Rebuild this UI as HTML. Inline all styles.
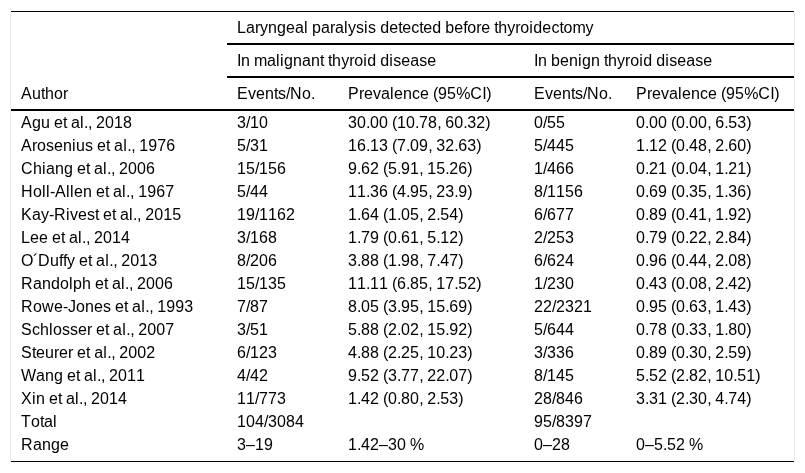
<!DOCTYPE html>
<html><head><meta charset="utf-8">
<style>
html,body{margin:0;padding:0;background:#fff;}
body{width:805px;height:473px;overflow:hidden;position:relative;font-family:"Liberation Sans",Arial,sans-serif;font-size:16px;color:#000;font-kerning:none;}
.vl{position:absolute;top:12px;height:450px;width:1px;background:#ebebeb;}
.hl{position:absolute;background:#000;}
.r{position:absolute;will-change:transform;left:0;width:805px;height:18px;line-height:18px;white-space:nowrap;}
.r span{position:absolute;top:0;}
.r i{font-style:normal;}
.c1{left:21px}.c2{left:237px}.c3{left:348px}.c4{left:534px}.c5{left:636px}
.k0{letter-spacing:0.1016px}
.k1{letter-spacing:-0.3281px}
.k2{letter-spacing:0px}
.k3{letter-spacing:0.4453px}
.k4{letter-spacing:-0.4453px}
.k5{letter-spacing:0.3281px}
.k6{letter-spacing:-0.2266px}
.k7{letter-spacing:-0.1016px}
.k8{letter-spacing:0.2266px}
</style></head><body>
<div class="vl" style="left:10px"></div>
<div class="vl" style="left:794px"></div>
<div class="hl" style="left:11px;top:11px;width:783px;height:1px"></div>
<div class="hl" style="left:227px;top:43px;width:567px;height:2px"></div>
<div class="hl" style="left:227px;top:76px;width:567px;height:2px"></div>
<div class="hl" style="left:11px;top:109px;width:783px;height:2px"></div>
<div class="hl" style="left:11px;top:461px;width:783px;height:1px"></div>
<div class="r" style="top:19px"><span class="c2"><i class="k0">La</i><i class="k1">r</i><i class="k2">y</i><i class="k0">ngea</i><i class="k3">l</i><i class="k4"> </i><i class="k0">pa</i><i class="k1">r</i><i class="k0">a</i><i class="k3">l</i><i class="k2">ys</i><i class="k3">i</i><i class="k2">s</i><i class="k4"> </i><i class="k0">de</i><i class="k4">t</i><i class="k0">e</i><i class="k2">c</i><i class="k4">t</i><i class="k0">ed</i><i class="k4"> </i><i class="k0">be</i><i class="k4">f</i><i class="k0">o</i><i class="k1">r</i><i class="k0">e</i><i class="k4"> t</i><i class="k0">h</i><i class="k2">y</i><i class="k1">r</i><i class="k0">o</i><i class="k3">i</i><i class="k0">de</i><i class="k2">c</i><i class="k4">t</i><i class="k0">o</i><i class="k1">m</i><i class="k2">y</i></span></div>
<div class="r" style="top:52px"><span class="c2"><i class="k4">I</i><i class="k0">n</i><i class="k4"> </i><i class="k1">m</i><i class="k0">a</i><i class="k3">li</i><i class="k0">gnan</i><i class="k4">t t</i><i class="k0">h</i><i class="k2">y</i><i class="k1">r</i><i class="k0">o</i><i class="k3">i</i><i class="k0">d</i><i class="k4"> </i><i class="k0">d</i><i class="k3">i</i><i class="k2">s</i><i class="k0">ea</i><i class="k2">s</i><i class="k0">e</i></span><span class="c4"><i class="k4">I</i><i class="k0">n</i><i class="k4"> </i><i class="k0">ben</i><i class="k3">i</i><i class="k0">gn</i><i class="k4"> t</i><i class="k0">h</i><i class="k2">y</i><i class="k1">r</i><i class="k0">o</i><i class="k3">i</i><i class="k0">d</i><i class="k4"> </i><i class="k0">d</i><i class="k3">i</i><i class="k2">s</i><i class="k0">ea</i><i class="k2">s</i><i class="k0">e</i></span></div>
<div class="r" style="top:85px"><span class="c1"><i class="k5">A</i><i class="k0">u</i><i class="k4">t</i><i class="k0">ho</i><i class="k1">r</i></span><span class="c2"><i class="k5">E</i><i class="k2">v</i><i class="k0">en</i><i class="k4">t</i><i class="k2">s</i><i class="k4">/</i><i class="k3">N</i><i class="k0">o</i><i class="k4">.</i></span><span class="c3"><i class="k5">P</i><i class="k1">r</i><i class="k0">e</i><i class="k2">v</i><i class="k0">a</i><i class="k3">l</i><i class="k0">en</i><i class="k2">c</i><i class="k0">e</i><i class="k4"> </i><i class="k1">(</i><i class="k0">95</i><i class="k6">%</i><i class="k3">C</i><i class="k4">I</i><i class="k1">)</i></span><span class="c4"><i class="k5">E</i><i class="k2">v</i><i class="k0">en</i><i class="k4">t</i><i class="k2">s</i><i class="k4">/</i><i class="k3">N</i><i class="k0">o</i><i class="k4">.</i></span><span class="c5"><i class="k5">P</i><i class="k1">r</i><i class="k0">e</i><i class="k2">v</i><i class="k0">a</i><i class="k3">l</i><i class="k0">en</i><i class="k2">c</i><i class="k0">e</i><i class="k4"> </i><i class="k1">(</i><i class="k0">95</i><i class="k6">%</i><i class="k3">C</i><i class="k4">I</i><i class="k1">)</i></span></div>
<div class="r" style="top:114px"><span class="c1"><i class="k5">A</i><i class="k0">gu</i><i class="k4"> </i><i class="k0">e</i><i class="k4">t </i><i class="k0">a</i><i class="k3">l</i><i class="k4">., </i><i class="k0">2018</i></span><span class="c2"><i class="k0">3</i><i class="k4">/</i><i class="k0">10</i></span><span class="c3"><i class="k0">30</i><i class="k4">.</i><i class="k0">00</i><i class="k4"> </i><i class="k1">(</i><i class="k0">10</i><i class="k4">.</i><i class="k0">78</i><i class="k4">, </i><i class="k0">60</i><i class="k4">.</i><i class="k0">32</i><i class="k1">)</i></span><span class="c4"><i class="k0">0</i><i class="k4">/</i><i class="k0">55</i></span><span class="c5"><i class="k0">0</i><i class="k4">.</i><i class="k0">00</i><i class="k4"> </i><i class="k1">(</i><i class="k0">0</i><i class="k4">.</i><i class="k0">00</i><i class="k4">, </i><i class="k0">6</i><i class="k4">.</i><i class="k0">53</i><i class="k1">)</i></span></div>
<div class="r" style="top:137px"><span class="c1"><i class="k5">A</i><i class="k1">r</i><i class="k0">o</i><i class="k2">s</i><i class="k0">en</i><i class="k3">i</i><i class="k0">u</i><i class="k2">s</i><i class="k4"> </i><i class="k0">e</i><i class="k4">t </i><i class="k0">a</i><i class="k3">l</i><i class="k4">., </i><i class="k0">1976</i></span><span class="c2"><i class="k0">5</i><i class="k4">/</i><i class="k0">31</i></span><span class="c3"><i class="k0">16</i><i class="k4">.</i><i class="k0">13</i><i class="k4"> </i><i class="k1">(</i><i class="k0">7</i><i class="k4">.</i><i class="k0">09</i><i class="k4">, </i><i class="k0">32</i><i class="k4">.</i><i class="k0">63</i><i class="k1">)</i></span><span class="c4"><i class="k0">5</i><i class="k4">/</i><i class="k0">445</i></span><span class="c5"><i class="k0">1</i><i class="k4">.</i><i class="k0">12</i><i class="k4"> </i><i class="k1">(</i><i class="k0">0</i><i class="k4">.</i><i class="k0">48</i><i class="k4">, </i><i class="k0">2</i><i class="k4">.</i><i class="k0">60</i><i class="k1">)</i></span></div>
<div class="r" style="top:160px"><span class="c1"><i class="k3">C</i><i class="k0">h</i><i class="k3">i</i><i class="k0">ang</i><i class="k4"> </i><i class="k0">e</i><i class="k4">t </i><i class="k0">a</i><i class="k3">l</i><i class="k4">., </i><i class="k0">2006</i></span><span class="c2"><i class="k0">15</i><i class="k4">/</i><i class="k0">156</i></span><span class="c3"><i class="k0">9</i><i class="k4">.</i><i class="k0">62</i><i class="k4"> </i><i class="k1">(</i><i class="k0">5</i><i class="k4">.</i><i class="k0">91</i><i class="k4">, </i><i class="k0">15</i><i class="k4">.</i><i class="k0">26</i><i class="k1">)</i></span><span class="c4"><i class="k0">1</i><i class="k4">/</i><i class="k0">466</i></span><span class="c5"><i class="k0">0</i><i class="k4">.</i><i class="k0">21</i><i class="k4"> </i><i class="k1">(</i><i class="k0">0</i><i class="k4">.</i><i class="k0">04</i><i class="k4">, </i><i class="k0">1</i><i class="k4">.</i><i class="k0">21</i><i class="k1">)</i></span></div>
<div class="r" style="top:183px"><span class="c1"><i class="k3">H</i><i class="k0">o</i><i class="k3">ll</i><i class="k1">-</i><i class="k5">A</i><i class="k3">ll</i><i class="k0">en</i><i class="k4"> </i><i class="k0">e</i><i class="k4">t </i><i class="k0">a</i><i class="k3">l</i><i class="k4">., </i><i class="k0">1967</i></span><span class="c2"><i class="k0">5</i><i class="k4">/</i><i class="k0">44</i></span><span class="c3"><i class="k0">11</i><i class="k4">.</i><i class="k0">36</i><i class="k4"> </i><i class="k1">(</i><i class="k0">4</i><i class="k4">.</i><i class="k0">95</i><i class="k4">, </i><i class="k0">23</i><i class="k4">.</i><i class="k0">9</i><i class="k1">)</i></span><span class="c4"><i class="k0">8</i><i class="k4">/</i><i class="k0">1156</i></span><span class="c5"><i class="k0">0</i><i class="k4">.</i><i class="k0">69</i><i class="k4"> </i><i class="k1">(</i><i class="k0">0</i><i class="k4">.</i><i class="k0">35</i><i class="k4">, </i><i class="k0">1</i><i class="k4">.</i><i class="k0">36</i><i class="k1">)</i></span></div>
<div class="r" style="top:206px"><span class="c1"><i class="k5">K</i><i class="k0">a</i><i class="k2">y</i><i class="k1">-</i><i class="k3">Ri</i><i class="k2">v</i><i class="k0">e</i><i class="k2">s</i><i class="k4">t </i><i class="k0">e</i><i class="k4">t </i><i class="k0">a</i><i class="k3">l</i><i class="k4">., </i><i class="k0">2015</i></span><span class="c2"><i class="k0">19</i><i class="k4">/</i><i class="k0">1162</i></span><span class="c3"><i class="k0">1</i><i class="k4">.</i><i class="k0">64</i><i class="k4"> </i><i class="k1">(</i><i class="k0">1</i><i class="k4">.</i><i class="k0">05</i><i class="k4">, </i><i class="k0">2</i><i class="k4">.</i><i class="k0">54</i><i class="k1">)</i></span><span class="c4"><i class="k0">6</i><i class="k4">/</i><i class="k0">677</i></span><span class="c5"><i class="k0">0</i><i class="k4">.</i><i class="k0">89</i><i class="k4"> </i><i class="k1">(</i><i class="k0">0</i><i class="k4">.</i><i class="k0">41</i><i class="k4">, </i><i class="k0">1</i><i class="k4">.</i><i class="k0">92</i><i class="k1">)</i></span></div>
<div class="r" style="top:229px"><span class="c1"><i class="k0">Lee</i><i class="k4"> </i><i class="k0">e</i><i class="k4">t </i><i class="k0">a</i><i class="k3">l</i><i class="k4">., </i><i class="k0">2014</i></span><span class="c2"><i class="k0">3</i><i class="k4">/</i><i class="k0">168</i></span><span class="c3"><i class="k0">1</i><i class="k4">.</i><i class="k0">79</i><i class="k4"> </i><i class="k1">(</i><i class="k0">0</i><i class="k4">.</i><i class="k0">61</i><i class="k4">, </i><i class="k0">5</i><i class="k4">.</i><i class="k0">12</i><i class="k1">)</i></span><span class="c4"><i class="k0">2</i><i class="k4">/</i><i class="k0">253</i></span><span class="c5"><i class="k0">0</i><i class="k4">.</i><i class="k0">79</i><i class="k4"> </i><i class="k1">(</i><i class="k0">0</i><i class="k4">.</i><i class="k0">22</i><i class="k4">, </i><i class="k0">2</i><i class="k4">.</i><i class="k0">84</i><i class="k1">)</i></span></div>
<div class="r" style="top:252px"><span class="c1"><i class="k4">O</i><i class="k1">´</i><i class="k3">D</i><i class="k0">u</i><i class="k4">ff</i><i class="k2">y</i><i class="k4"> </i><i class="k0">e</i><i class="k4">t </i><i class="k0">a</i><i class="k3">l</i><i class="k4">., </i><i class="k0">2013</i></span><span class="c2"><i class="k0">8</i><i class="k4">/</i><i class="k0">206</i></span><span class="c3"><i class="k0">3</i><i class="k4">.</i><i class="k0">88</i><i class="k4"> </i><i class="k1">(</i><i class="k0">1</i><i class="k4">.</i><i class="k0">98</i><i class="k4">, </i><i class="k0">7</i><i class="k4">.</i><i class="k0">47</i><i class="k1">)</i></span><span class="c4"><i class="k0">6</i><i class="k4">/</i><i class="k0">624</i></span><span class="c5"><i class="k0">0</i><i class="k4">.</i><i class="k0">96</i><i class="k4"> </i><i class="k1">(</i><i class="k0">0</i><i class="k4">.</i><i class="k0">44</i><i class="k4">, </i><i class="k0">2</i><i class="k4">.</i><i class="k0">08</i><i class="k1">)</i></span></div>
<div class="r" style="top:275px"><span class="c1"><i class="k3">R</i><i class="k0">ando</i><i class="k3">l</i><i class="k0">ph</i><i class="k4"> </i><i class="k0">e</i><i class="k4">t </i><i class="k0">a</i><i class="k3">l</i><i class="k4">., </i><i class="k0">2006</i></span><span class="c2"><i class="k0">15</i><i class="k4">/</i><i class="k0">135</i></span><span class="c3"><i class="k0">11</i><i class="k4">.</i><i class="k0">11</i><i class="k4"> </i><i class="k1">(</i><i class="k0">6</i><i class="k4">.</i><i class="k0">85</i><i class="k4">, </i><i class="k0">17</i><i class="k4">.</i><i class="k0">52</i><i class="k1">)</i></span><span class="c4"><i class="k0">1</i><i class="k4">/</i><i class="k0">230</i></span><span class="c5"><i class="k0">0</i><i class="k4">.</i><i class="k0">43</i><i class="k4"> </i><i class="k1">(</i><i class="k0">0</i><i class="k4">.</i><i class="k0">08</i><i class="k4">, </i><i class="k0">2</i><i class="k4">.</i><i class="k0">42</i><i class="k1">)</i></span></div>
<div class="r" style="top:298px"><span class="c1"><i class="k3">R</i><i class="k0">o</i><i class="k3">w</i><i class="k0">e</i><i class="k1">-</i><i class="k2">J</i><i class="k0">one</i><i class="k2">s</i><i class="k4"> </i><i class="k0">e</i><i class="k4">t </i><i class="k0">a</i><i class="k3">l</i><i class="k4">., </i><i class="k0">1993</i></span><span class="c2"><i class="k0">7</i><i class="k4">/</i><i class="k0">87</i></span><span class="c3"><i class="k0">8</i><i class="k4">.</i><i class="k0">05</i><i class="k4"> </i><i class="k1">(</i><i class="k0">3</i><i class="k4">.</i><i class="k0">95</i><i class="k4">, </i><i class="k0">15</i><i class="k4">.</i><i class="k0">69</i><i class="k1">)</i></span><span class="c4"><i class="k0">22</i><i class="k4">/</i><i class="k0">2321</i></span><span class="c5"><i class="k0">0</i><i class="k4">.</i><i class="k0">95</i><i class="k4"> </i><i class="k1">(</i><i class="k0">0</i><i class="k4">.</i><i class="k0">63</i><i class="k4">, </i><i class="k0">1</i><i class="k4">.</i><i class="k0">43</i><i class="k1">)</i></span></div>
<div class="r" style="top:321px"><span class="c1"><i class="k5">S</i><i class="k2">c</i><i class="k0">h</i><i class="k3">l</i><i class="k0">o</i><i class="k2">ss</i><i class="k0">e</i><i class="k1">r</i><i class="k4"> </i><i class="k0">e</i><i class="k4">t </i><i class="k0">a</i><i class="k3">l</i><i class="k4">., </i><i class="k0">2007</i></span><span class="c2"><i class="k0">3</i><i class="k4">/</i><i class="k0">51</i></span><span class="c3"><i class="k0">5</i><i class="k4">.</i><i class="k0">88</i><i class="k4"> </i><i class="k1">(</i><i class="k0">2</i><i class="k4">.</i><i class="k0">02</i><i class="k4">, </i><i class="k0">15</i><i class="k4">.</i><i class="k0">92</i><i class="k1">)</i></span><span class="c4"><i class="k0">5</i><i class="k4">/</i><i class="k0">644</i></span><span class="c5"><i class="k0">0</i><i class="k4">.</i><i class="k0">78</i><i class="k4"> </i><i class="k1">(</i><i class="k0">0</i><i class="k4">.</i><i class="k0">33</i><i class="k4">, </i><i class="k0">1</i><i class="k4">.</i><i class="k0">80</i><i class="k1">)</i></span></div>
<div class="r" style="top:344px"><span class="c1"><i class="k5">S</i><i class="k4">t</i><i class="k0">eu</i><i class="k1">r</i><i class="k0">e</i><i class="k1">r</i><i class="k4"> </i><i class="k0">e</i><i class="k4">t </i><i class="k0">a</i><i class="k3">l</i><i class="k4">., </i><i class="k0">2002</i></span><span class="c2"><i class="k0">6</i><i class="k4">/</i><i class="k0">123</i></span><span class="c3"><i class="k0">4</i><i class="k4">.</i><i class="k0">88</i><i class="k4"> </i><i class="k1">(</i><i class="k0">2</i><i class="k4">.</i><i class="k0">25</i><i class="k4">, </i><i class="k0">10</i><i class="k4">.</i><i class="k0">23</i><i class="k1">)</i></span><span class="c4"><i class="k0">3</i><i class="k4">/</i><i class="k0">336</i></span><span class="c5"><i class="k0">0</i><i class="k4">.</i><i class="k0">89</i><i class="k4"> </i><i class="k1">(</i><i class="k0">0</i><i class="k4">.</i><i class="k0">30</i><i class="k4">, </i><i class="k0">2</i><i class="k4">.</i><i class="k0">59</i><i class="k1">)</i></span></div>
<div class="r" style="top:367px"><span class="c1"><i class="k7">W</i><i class="k0">ang</i><i class="k4"> </i><i class="k0">e</i><i class="k4">t </i><i class="k0">a</i><i class="k3">l</i><i class="k4">., </i><i class="k0">2011</i></span><span class="c2"><i class="k0">4</i><i class="k4">/</i><i class="k0">42</i></span><span class="c3"><i class="k0">9</i><i class="k4">.</i><i class="k0">52</i><i class="k4"> </i><i class="k1">(</i><i class="k0">3</i><i class="k4">.</i><i class="k0">77</i><i class="k4">, </i><i class="k0">22</i><i class="k4">.</i><i class="k0">07</i><i class="k1">)</i></span><span class="c4"><i class="k0">8</i><i class="k4">/</i><i class="k0">145</i></span><span class="c5"><i class="k0">5</i><i class="k4">.</i><i class="k0">52</i><i class="k4"> </i><i class="k1">(</i><i class="k0">2</i><i class="k4">.</i><i class="k0">82</i><i class="k4">, </i><i class="k0">10</i><i class="k4">.</i><i class="k0">51</i><i class="k1">)</i></span></div>
<div class="r" style="top:390px"><span class="c1"><i class="k5">X</i><i class="k3">i</i><i class="k0">n</i><i class="k4"> </i><i class="k0">e</i><i class="k4">t </i><i class="k0">a</i><i class="k3">l</i><i class="k4">., </i><i class="k0">2014</i></span><span class="c2"><i class="k0">11</i><i class="k4">/</i><i class="k0">773</i></span><span class="c3"><i class="k0">1</i><i class="k4">.</i><i class="k0">42</i><i class="k4"> </i><i class="k1">(</i><i class="k0">0</i><i class="k4">.</i><i class="k0">80</i><i class="k4">, </i><i class="k0">2</i><i class="k4">.</i><i class="k0">53</i><i class="k1">)</i></span><span class="c4"><i class="k0">28</i><i class="k4">/</i><i class="k0">846</i></span><span class="c5"><i class="k0">3</i><i class="k4">.</i><i class="k0">31</i><i class="k4"> </i><i class="k1">(</i><i class="k0">2</i><i class="k4">.</i><i class="k0">30</i><i class="k4">, </i><i class="k0">4</i><i class="k4">.</i><i class="k0">74</i><i class="k1">)</i></span></div>
<div class="r" style="top:413px"><span class="c1"><i class="k8">T</i><i class="k0">o</i><i class="k4">t</i><i class="k0">a</i><i class="k3">l</i></span><span class="c2"><i class="k0">104</i><i class="k4">/</i><i class="k0">3084</i></span><span class="c4"><i class="k0">95</i><i class="k4">/</i><i class="k0">8397</i></span></div>
<div class="r" style="top:436px"><span class="c1"><i class="k3">R</i><i class="k0">ange</i></span><span class="c2"><i class="k0">3–19</i></span><span class="c3"><i class="k0">1</i><i class="k4">.</i><i class="k0">42–30</i><i class="k4"> </i><i class="k6">%</i></span><span class="c4"><i class="k0">0–28</i></span><span class="c5"><i class="k0">0–5</i><i class="k4">.</i><i class="k0">52</i><i class="k4"> </i><i class="k6">%</i></span></div>
</body></html>
